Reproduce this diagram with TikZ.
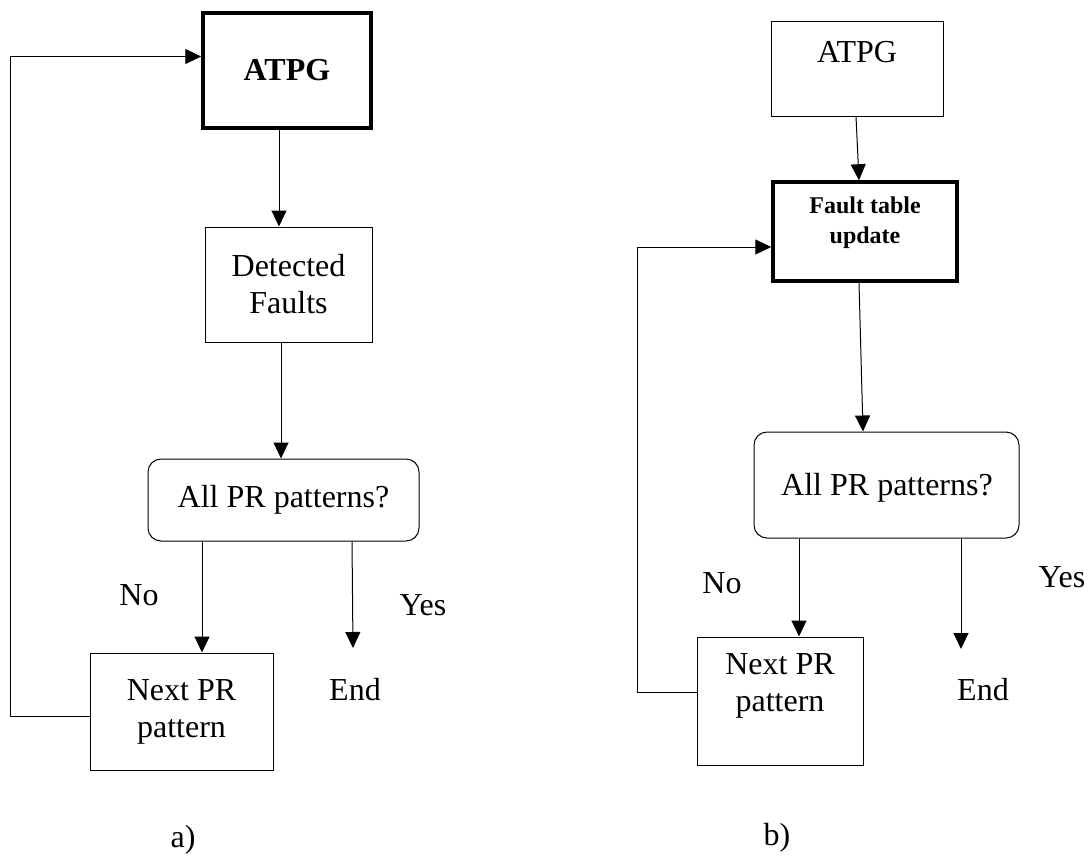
\documentclass[tikz,border=0pt]{standalone}
\usepackage{fontspec}
\setmainfont{Liberation Serif}
\usetikzlibrary{arrows.meta}
\begin{document}
\begin{tikzpicture}[x=1pt,y=-1pt,
  txt/.style={font=\fontsize{32}{37}\selectfont, align=center},
  box/.style={draw, line width=1pt, inner sep=0pt, txt},
  thickbox/.style={draw, line width=3.5pt, inner sep=0pt, txt},
  decision/.style={draw, line width=1pt, rounded corners=13pt, inner sep=0pt, txt},
  arr/.style={line width=1pt, -{Triangle[length=16pt,width=15pt]}},
  lbl/.style={txt, inner sep=0pt}]
\useasboundingbox (0,0) rectangle (1089,857);

% ---------- a) ----------
\node[thickbox, minimum width=168pt, minimum height=115pt, font=\fontsize{32}{37}\selectfont\bfseries]
  (atpgA) at (287,70.5) {ATPG};
\node[box, minimum width=167pt, minimum height=115pt] (detA) at (288.5,284.5) {Detected\\Faults};
\node[decision, minimum width=271pt, minimum height=82pt] (allA) at (283.5,500) {All PR patterns?};
\node[box, minimum width=183pt, minimum height=117pt] (nextA) at (181.5,711.5) {Next PR\\pattern};
\node[lbl] (noA) at (139,595) {No};
\node[lbl] (yesA) at (423,605) {Yes};
\node[lbl] (endA) at (355,690) {End};
\coordinate (tipA) at (353,648);
\coordinate (loopA) at (10,0);
\coordinate (inA) at ([yshift=14pt]atpgA.west);
\node[lbl] (capA) at (183,840) {a)};

\draw[arr] ([xshift=-8pt]atpgA.south) -- ([xshift=-9.5pt]detA.north);
\draw[arr] ([xshift=-7.5pt]detA.south) -- ([xshift=-2.5pt]allA.north);
\draw[arr] ([xshift=-81.5pt]allA.south) -- ([xshift=20.5pt]nextA.north);
\draw[arr] ([xshift=68.5pt]allA.south) -- (tipA);
\draw[arr] ([yshift=-4.5pt]nextA.west) -| (loopA |- inA) -- (inA);

% ---------- b) ----------
\node[box, minimum width=172pt, minimum height=95pt,
  label={[lbl, yshift=16.5pt]center:ATPG}] (atpgB) at (857,68.5) {};
\node[thickbox, minimum width=184pt, minimum height=99pt,
  label={[lbl, font=\fontsize{24}{30}\selectfont\bfseries, align=center, yshift=8.5pt]center:Fault table\\update}]
  (ftB) at (865,231.5) {};
\node[decision, minimum width=265pt, minimum height=106pt] (allB) at (886.5,485) {};
\node[lbl] (allBtext) at (887,488) {All PR patterns?};
\node[box, minimum width=166pt, minimum height=128pt,
  label={[lbl, yshift=15pt]center:Next PR\\pattern}] (nextB) at (780,701) {};
\node[lbl] (noB) at (722,583) {No};
\node[lbl] (yesB) at (1062,577) {Yes};
\node[lbl] (endB) at (983,690) {End};
\coordinate (tipB) at (961,649);
\coordinate (loopB) at (637,0);
\coordinate (inB) at ([yshift=-15.5pt]ftB.west);
\node[lbl] (capB) at (777,838) {b)};

\draw[arr] ([xshift=-1pt]atpgB.south) -- ([xshift=-6pt]ftB.north);
\draw[arr] ([xshift=-6pt]ftB.south) -- ([xshift=-23.5pt]allB.north);
\draw[arr] ([xshift=-87.5pt]allB.south) -- ([xshift=19pt]nextB.north);
\draw[arr] ([xshift=74.5pt]allB.south) -- (tipB);
\draw[arr] ([yshift=9pt]nextB.west) -| (loopB |- inB) -- (inB);
\end{tikzpicture}
\end{document}
